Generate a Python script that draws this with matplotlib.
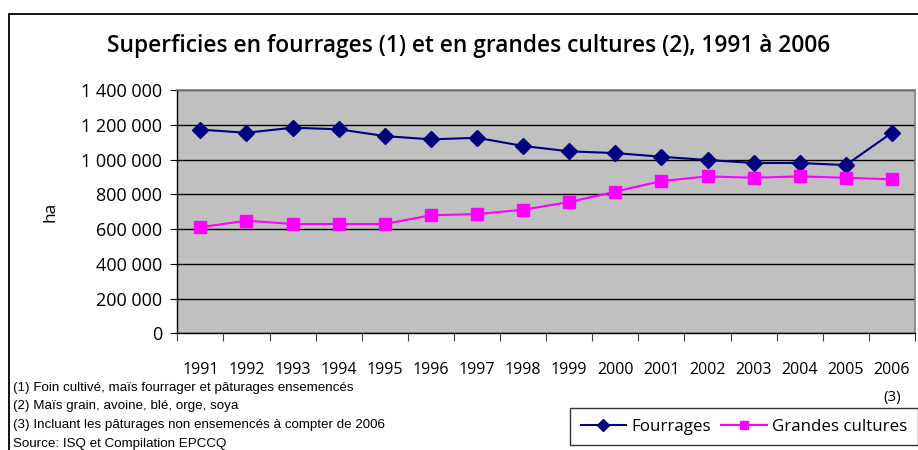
import matplotlib
matplotlib.use("Agg")
import matplotlib.pyplot as plt
from matplotlib.patches import Rectangle
from matplotlib.lines import Line2D
from matplotlib.ticker import FuncFormatter, MultipleLocator
import numpy as np

years = ["1991", "1992", "1993", "1994", "1995", "1996", "1997", "1998",
         "1999", "2000", "2001", "2002", "2003", "2004", "2005", "2006"]
fourrages = [1172000, 1154000, 1183000, 1174000, 1135000, 1116000, 1125000, 1078000,
             1047000, 1037000, 1016000, 997000, 980000, 980000, 968000, 1154000]
grandes_cultures = [610000, 648000, 629000, 629000, 629000, 679000, 686000, 711000,
                    755000, 815000, 876000, 903000, 895000, 903000, 895000, 886000]
series_labels = ["Fourrages", "Grandes cultures"]
title = "Superficies en fourrages (1) et en grandes cultures (2), 1991 à 2006"
notes = ["(1) Foin cultivé, maïs fourrager et pâturages ensemencés",
         "(2) Maïs grain, avoine, blé, orge, soya",
         "(3) Incluant les pâturages non ensemencés à compter de 2006",
         "Source: ISQ et Compilation EPCCQ"]

W, H = 918, 450
fig = plt.figure(figsize=(W / 100, H / 100), dpi=100)
fig.patch.set_facecolor("white")

# outer chart border
fig.patches.append(Rectangle((8.5 / W, -0.1), 1.2, (H - 13.5) / H + 0.1,
                             transform=fig.transFigure, fill=False,
                             edgecolor="black", linewidth=1.3))

x0, x1 = 177.3, 915.0
ytop, ybot = 90.0, 333.3
ax = fig.add_axes([x0 / W, (H - ybot) / H, (x1 - x0) / W, (ybot - ytop) / H])
ax.set_facecolor("#C0C0C0")

navy, magenta = "#000080", "#FF00FF"
x = np.arange(len(years))
ax.plot(x, fourrages, color=navy, marker="D", markersize=8, linewidth=1.5)
ax.plot(x, grandes_cultures, color=magenta, marker="s", markersize=9, linewidth=1.5)

ax.set_xlim(-0.5, len(years) - 0.5)
ax.set_ylim(0, 1400000)
ax.yaxis.set_major_locator(MultipleLocator(200000))
ax.yaxis.set_major_formatter(FuncFormatter(lambda v, p: f"{int(v):,}".replace(",", " ")))
ax.grid(axis="y", color="black", linewidth=1.0)
ax.set_axisbelow(True)

ax.set_xticks(np.arange(-0.5, len(years), 1.0))
ax.set_xticklabels([])
ax.set_xticks(x, minor=True)
ax.set_xticklabels(years, minor=True, fontsize=11.5, family="Open Sans")
ax.tick_params(axis="x", which="minor", length=0, pad=21)
ax.tick_params(axis="x", which="major", length=6, direction="out", color="#404040")
ax.tick_params(axis="y", length=5, direction="out", labelsize=13, pad=6)
for lab in ax.get_yticklabels():
    lab.set_family("Open Sans")

for s in ["top", "right"]:
    ax.spines[s].set_color("#808080")
    ax.spines[s].set_linewidth(1.2)
for s in ["left", "bottom"]:
    ax.spines[s].set_color("black")
    ax.spines[s].set_linewidth(1.0)

fig.text(50 / W, 1 - 212 / H, "ha", rotation=90, fontsize=12.5, family="Open Sans",
         ha="center", va="center")

fig.text(469 / W, 1 - 46 / H, title, fontsize=16.4, fontweight="semibold",
         family="Open Sans", ha="center", va="center")

for i, t in enumerate(notes):
    fig.text(13 / W, 1 - (388 + i * 18.5) / H, t, fontsize=9.6,
             family="Liberation Sans", ha="left", va="center")

fig.text(892 / W, 1 - 398 / H, "(3)", fontsize=11, family="Open Sans",
         ha="center", va="center")

handles = [Line2D([], [], color=navy, marker="D", markersize=6, linewidth=1.5),
           Line2D([], [], color=magenta, marker="s", markersize=6, linewidth=1.5)]
leg = fig.legend(handles, series_labels, loc="upper left",
                 bbox_to_anchor=(570 / W, 1 - 408 / H),
                 ncol=2, frameon=True, fancybox=False, edgecolor="black",
                 prop={"family": "Open Sans", "size": 12.2}, handlelength=2.7,
                 columnspacing=0.6, handletextpad=0.3, borderpad=0.62,
                 borderaxespad=0)
leg.get_frame().set_linewidth(1.0)

fig.savefig("out.png", dpi=100)
